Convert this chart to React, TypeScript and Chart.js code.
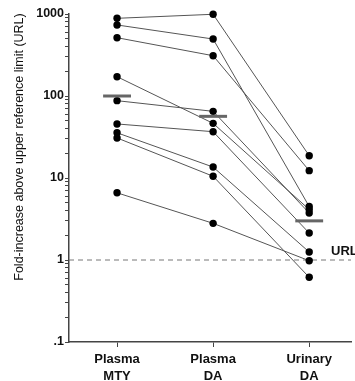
import React, { useEffect, useRef } from "react";
import { Chart, registerables } from "chart.js";

Chart.register(...registerables);

const categories: string[][] = [
  ["Plasma", "MTY"],
  ["Plasma", "DA"],
  ["Urinary", "DA"],
];
const plasmaMTY = [886, 735, 514, 172, 87.7, 45.6, 35.6, 30.8, 6.6];
const plasmaDA = [992, 495, 310, 46.4, 65, 36.7, 13.6, 10.5, 2.8];
const urinaryDA = [18.7, 4.49, 12.3, 4.13, 3.74, 2.13, 1.25, 0.615, 0.98];
const medians = [100, 56.5, 3.0];
const urlLevel = 1;
const urlLabel = "URL";
const yMajorTicks = [0.1, 1, 10, 100, 1000];
const yMajorLabels = [".1", "1", "10", "100", "1000"];
const yTitle = "Fold-increase above upper reference limit (URL)";

const FONT = "'Liberation Sans', Arial, sans-serif";

export default function App() {
  const ref = useRef<HTMLCanvasElement | null>(null);

  useEffect(() => {
    if (!ref.current) return;
    const subjectSets = plasmaMTY.map((_, i) => ({
      type: "line" as const,
      data: [
        { x: 0, y: plasmaMTY[i] },
        { x: 1, y: plasmaDA[i] },
        { x: 2, y: urinaryDA[i] },
      ],
      borderColor: "#555",
      borderWidth: 1,
      pointRadius: 3.7,
      pointBackgroundColor: "#000",
      pointBorderColor: "#000",
      pointBorderWidth: 0,
      showLine: true,
      clip: false as any,
      order: 1,
    }));
    const medianSets = medians.map((m, i) => ({
      type: "line" as const,
      data: [
        { x: i - 0.145, y: m },
        { x: i + 0.145, y: m },
      ],
      borderColor: "#666",
      borderWidth: 3,
      pointRadius: 0,
      showLine: true,
      clip: false as any,
      order: 0,
    }));
    const urlSet = {
      type: "line" as const,
      data: [
        { x: -0.5, y: urlLevel },
        { x: 2.435, y: urlLevel },
      ],
      borderColor: "#777",
      borderWidth: 1,
      borderDash: [5, 4],
      pointRadius: 0,
      showLine: true,
      order: 2,
    };

    const textPlugin = {
      id: "texts",
      afterDraw(chart: any) {
        const ctx = chart.ctx;
        const ys = chart.scales.y;
        ctx.save();
        ctx.fillStyle = "#111";
        ctx.font = `bold 13px ${FONT}`;
        ctx.textAlign = "left";
        ctx.textBaseline = "middle";
        ctx.fillText(urlLabel, 331, ys.getPixelForValue(urlLevel) - 9);
        ctx.restore();
        ctx.save();
        ctx.fillStyle = "#111";
        ctx.font = `12.5px ${FONT}`;
        ctx.translate(20, 147);
        ctx.rotate(-Math.PI / 2);
        ctx.textAlign = "center";
        ctx.textBaseline = "middle";
        ctx.fillText(yTitle, 0, 0);
        ctx.restore();
      },
    };

    const chart = new Chart(ref.current, {
      type: "scatter",
      data: { datasets: [...subjectSets, ...medianSets, urlSet] as any },
      options: {
        animation: false,
        responsive: false,
        layout: { padding: { top: 14, left: 0, right: 0, bottom: 0 } },
        plugins: { legend: { display: false }, tooltip: { enabled: false } },
        scales: {
          x: {
            type: "linear",
            min: -0.5,
            max: 2.435,
            afterBuildTicks: (scale: any) => {
              scale.ticks = categories.map((_, i) => ({ value: i }));
            },
            afterFit: (scale: any) => {
              scale.height = 39;
            },
            ticks: {
              autoSkip: false,
              maxRotation: 0,
              padding: 4,
              color: "#111",
              font: { family: FONT, size: 13, weight: "bold", lineHeight: 1.3 },
              callback: (v: any) => categories[Math.round(Number(v))] as any,
            },
            grid: {
              drawOnChartArea: false,
              color: "#444",
              tickLength: 5,
            },
            border: { color: "#444", width: 1.5 },
          },
          y: {
            type: "logarithmic",
            min: 0.1,
            max: 1000,
            afterBuildTicks: (scale: any) => {
              const t: any[] = [];
              for (let e = -1; e <= 2; e++) {
                for (let m = 1; m <= 9; m++) {
                  t.push({ value: m * Math.pow(10, e), major: m === 1 });
                }
              }
              t.push({ value: 1000, major: true });
              scale.ticks = t;
            },
            afterFit: (scale: any) => {
              scale.width = 69;
            },
            ticks: {
              autoSkip: false,
              padding: 1,
              color: "#111",
              font: { family: FONT, size: 12.5, weight: "bold" },
              callback: (v: any) => {
                const n = Number(v);
                const k = yMajorTicks.findIndex((t) => Math.abs(n - t) < t * 1e-6);
                return k >= 0 ? yMajorLabels[k] : "";
              },
            },
            grid: {
              drawOnChartArea: false,
              color: "#444",
              tickLength: 4,
            },
            border: { color: "#444", width: 1.5 },
          },
        },
      },
      plugins: [textPlugin],
    });
    return () => chart.destroy();
  }, []);

  return (
    <canvas
      ref={ref}
      width={355}
      height={381}
      style={{ position: "fixed", left: 0, top: 0, display: "block", background: "#fff" }}
    />
  );
}
